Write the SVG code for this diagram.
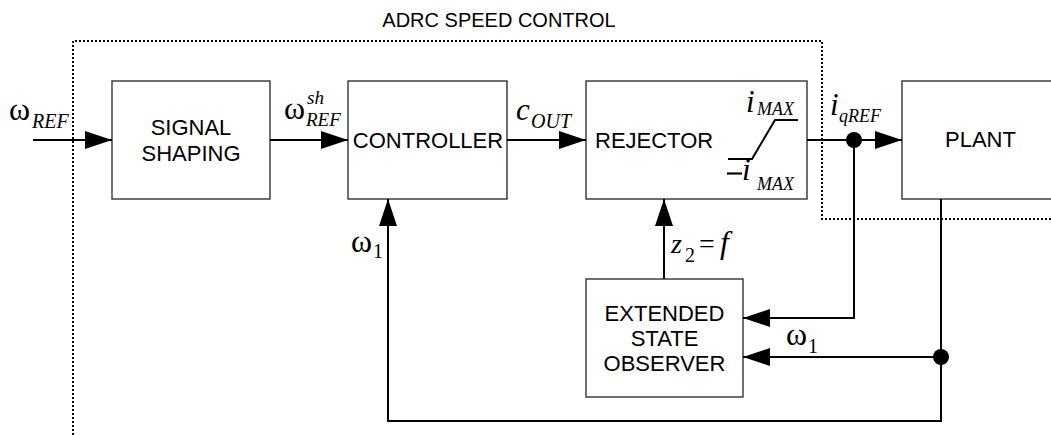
<svg xmlns="http://www.w3.org/2000/svg" width="1051" height="435" viewBox="0 0 1051 435">
<style>
.box{fill:#fff;stroke:#333;stroke-width:1.4}
.wire{fill:none;stroke:#000;stroke-width:2}
.dot{fill:none;stroke:#000;stroke-width:2;stroke-dasharray:2 2}
.lbl{font-family:"Liberation Sans",Arial,sans-serif;font-size:22px;fill:#000}
.m{font-family:"Liberation Serif","Times New Roman",serif;fill:#000}
.it{font-style:italic}
</style>
<defs>
<marker id="ah" markerUnits="userSpaceOnUse" markerWidth="28" markerHeight="18" refX="27" refY="9" orient="auto" viewBox="0 0 28 18">
<path d="M0,0 L27,9 L0,18 z" fill="#000"/>
</marker>
</defs>
<rect width="1051" height="435" fill="#fff"/>
<g id="boundary">
<path class="dot" d="M73,435 V41 H822 V219 H1051"/>
<text class="lbl" x="499" y="27" text-anchor="middle" style="font-size:20px">ADRC SPEED CONTROL</text>
</g>
<g id="signal-shaping">
<rect class="box" x="112" y="81" width="158" height="118"/>
<text class="lbl" x="191" y="135" text-anchor="middle">SIGNAL</text>
<text class="lbl" x="191" y="161" text-anchor="middle">SHAPING</text>
</g>
<g id="controller">
<rect class="box" x="348" y="81" width="159" height="118"/>
<text class="lbl" x="428" y="148" text-anchor="middle">CONTROLLER</text>
</g>
<g id="rejector">
<rect class="box" x="586" y="81" width="221" height="118"/>
<text class="lbl" x="595" y="148">REJECTOR</text>
<path class="wire" d="M728,159 H752 L775,120 H798" stroke-width="1.8"/>
<text class="m it" x="746" y="112" font-size="31">i</text>
<text class="m it" x="757" y="115" font-size="18">MAX</text>
<path d="M727,173.5 H742" stroke="#000" stroke-width="2.2"/>
<text class="m it" x="742" y="180" font-size="31">i</text>
<text class="m it" x="757" y="190" font-size="18">MAX</text>
</g>
<g id="plant">
<rect class="box" x="902" y="81" width="170" height="118"/>
<text class="lbl" x="945" y="147">PLANT</text>
</g>
<g id="eso">
<rect class="box" x="586" y="279" width="157" height="118"/>
<text class="lbl" x="664.5" y="321" text-anchor="middle">EXTENDED</text>
<text class="lbl" x="664.5" y="346" text-anchor="middle">STATE</text>
<text class="lbl" x="664.5" y="371" text-anchor="middle">OBSERVER</text>
</g>
<g id="connectors">
<path class="wire" d="M33,140 H112" marker-end="url(#ah)"/>
<path class="wire" d="M270,140 H348" marker-end="url(#ah)"/>
<path class="wire" d="M507,140 H586" marker-end="url(#ah)"/>
<path class="wire" d="M807,140 H902" marker-end="url(#ah)"/>
<circle cx="854" cy="140" r="8" fill="#000"/>
<path class="wire" d="M854,140 V318 H743" marker-end="url(#ah)"/>
<path class="wire" d="M664,279 V199" marker-end="url(#ah)"/>
<path class="wire" d="M941,199 V421 H388 V199" marker-end="url(#ah)"/>
<circle cx="941" cy="357" r="8" fill="#000"/>
<path class="wire" d="M941,357 H743" marker-end="url(#ah)"/>
</g>
<g id="labels">
<text class="m" x="9" y="120" font-size="32">ω</text>
<text class="m it" x="32" y="128" font-size="20">REF</text>
<text class="m" x="284" y="119" font-size="32">ω</text>
<text class="m it" x="307" y="104" font-size="19">sh</text>
<text class="m it" x="306" y="126" font-size="19">REF</text>
<text class="m it" x="516" y="120" font-size="31">c</text>
<text class="m it" x="531" y="128" font-size="20">OUT</text>
<text class="m it" x="830" y="115" font-size="31">i</text>
<text class="m it" x="839" y="122" font-size="18">qREF</text>
<text class="m" x="351" y="252" font-size="32">ω</text>
<text class="m" x="373" y="258" font-size="20">1</text>
<text class="m it" x="671" y="253" font-size="28">z</text>
<text class="m" x="685" y="262" font-size="20">2</text>
<text class="m" x="699" y="253" font-size="28">=</text>
<text class="m it" x="720" y="253" font-size="32">f</text>
<text class="m" x="786" y="345" font-size="32">ω</text>
<text class="m" x="808" y="353" font-size="20">1</text>
</g>
</svg>
